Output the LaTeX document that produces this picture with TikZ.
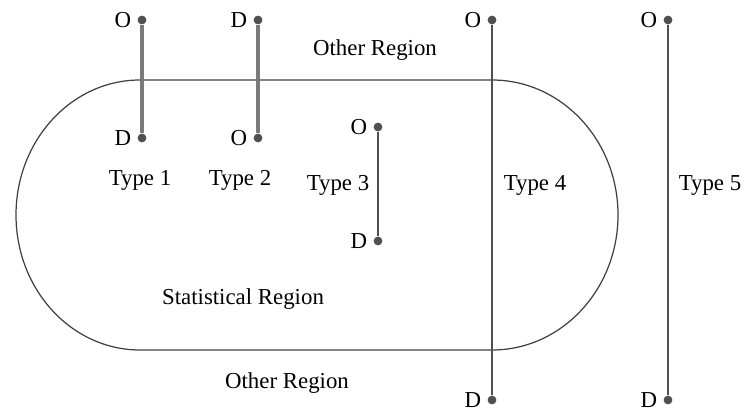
\documentclass[tikz,border=0pt]{standalone}
\usepackage{fontspec}
\setmainfont{Liberation Serif}
\usetikzlibrary{positioning}
\definecolor{odgray}{HTML}{7A7A7A}
\definecolor{oddark}{HTML}{505050}

\begin{document}
\begin{tikzpicture}[x=0.02cm, y=-0.02cm, font=\fontsize{13}{15}\selectfont,
  endpt/.style={circle, fill=oddark, inner sep=0pt, minimum size=5pt, label distance=1.5pt},
  thicktrip/.style={line width=1.8pt, draw=odgray},
  thintrip/.style={line width=1pt, draw=oddark}]
  \useasboundingbox (0,0) rectangle (743,412);

  % statistical region
  \draw[line width=0.7pt, draw=black!75] (140,80) -- (492,80)
    arc[start angle=-90, end angle=90, x radius=126, y radius=135] -- (140,350)
    arc[start angle=90, end angle=270, x radius=124, y radius=135] -- cycle;

  % end points
  \node[endpt, label=left:O] (o1) at (142,20) {};
  \node[endpt, label=left:D] (d1) at (142,138) {};
  \node[endpt, label=left:D] (d2) at (258,20) {};
  \node[endpt, label=left:O] (o2) at (258,138) {};
  \node[endpt, label=left:O] (o3) at (378,127) {};
  \node[endpt, label=left:D] (d3) at (378,241) {};
  \node[endpt, label=left:O] (o4) at (492,20) {};
  \node[endpt, label=left:D] (d4) at (492,400) {};
  \node[endpt, label=left:O] (o5) at (668,20) {};
  \node[endpt, label=left:D] (d5) at (668,400) {};

  % trips
  \draw[thicktrip] (o1) -- (d1);
  \draw[thicktrip] (d2) -- (o2);
  \draw[thintrip] (o3) -- (d3);
  \draw[thintrip] (o4) -- (d4);
  \draw[thintrip] (o5) -- (d5);

  % labels
  \node (t1) at (140,180) {Type 1};
  \node (t2) at (240,180) {Type 2};
  \node (t3) at (338,185) {Type 3};
  \node (t4) at (535,185) {Type 4};
  \node (t5) at (710,185) {Type 5};
  \node (otop) at (375,50) {Other Region};
  \node (obot) at (287,383) {Other Region};
  \node (stat) at (243,299) {Statistical Region};
\end{tikzpicture}
\end{document}
